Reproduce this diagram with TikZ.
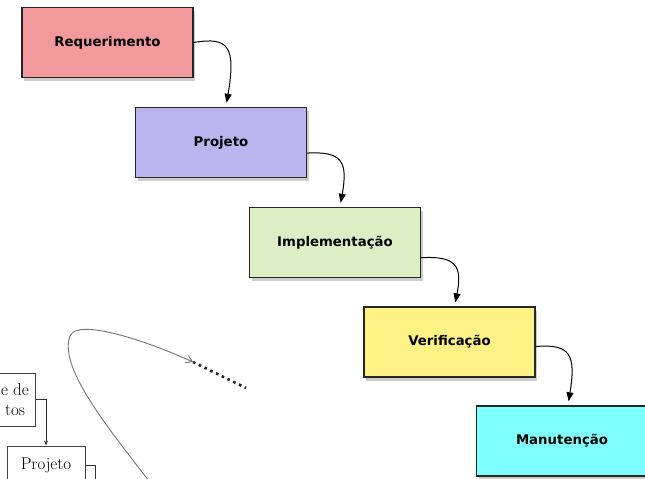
\documentclass[tikz,border=0pt]{standalone}
\usepackage{fontspec}
\newfontfamily\etapafont{DejaVu Sans}
\usetikzlibrary{shadows,arrows.meta}

\definecolor{reqcor}{HTML}{F2999B}
\definecolor{projcor}{HTML}{BCB4EE}
\definecolor{implcor}{HTML}{DCEFC4}
\definecolor{verifcor}{HTML}{FFF285}
\definecolor{manutcor}{HTML}{80FFFF}

\begin{document}
\begin{tikzpicture}
  [x=1pt, y=-1pt,
    etapa/.style={draw=black!85, line width=1.5pt, minimum width=171pt, minimum height=70pt,
      font=\etapafont\bfseries\fontsize{13.3}{15}\selectfont,
      drop shadow={opacity=0.4, shadow xshift=2pt, shadow yshift=-3.5pt}},
    seta/.style={-{Triangle[length=9pt,width=7pt]}, line width=1pt, shorten >=4pt},
    caixa/.style={draw=black!75, line width=1pt, inner sep=2pt,
      font=\fontsize{17}{20}\selectfont},
    fio/.style={line width=0.8pt, black!80},
  ]
  \useasboundingbox (0,0) rectangle (645,479);
  \clip (0,0) rectangle (645,479);

  % etapas do modelo cascata
  \node[etapa, fill=reqcor] (req) at (107.5,42.5) {Requerimento};
  \node[etapa, fill=projcor] (proj) at (221,142.5) {Projeto};
  \node[etapa, fill=implcor] (impl) at (335,242.5) {Implementação};
  \node[etapa, fill=verifcor] (verif) at (449.5,342) {Verificação};
  \node[etapa, fill=manutcor] (manut) at (562,441) {Manutenção};

  \draw[seta] (req.east) .. controls +(35,-6) and +(10,-60) .. ([xshift=5pt]proj.north);
  \draw[seta] (proj.-7) .. controls +(35,-2) and +(8,-45) .. ([xshift=5pt]impl.north);
  \draw[seta] (impl.-10) .. controls +(35,-2) and +(8,-40) .. ([xshift=5pt]verif.north);
  \draw[seta] (verif.-3) .. controls +(35,-3) and +(8,-50) .. ([xshift=6pt]manut.north);

  % recorte da outra figura
  \node[caixa, minimum width=40pt, minimum height=53pt, align=center] (analise) at (15,399.5) {e de\\tos};
  \node[caixa, minimum width=78pt, minimum height=38pt] (proj2) at (46,465) {Projeto};
  \coordinate (fora) at (95,490);
  \draw[fio, -{Stealth[length=5pt,width=4pt]}] (analise.east) -| (proj2.north);
  \draw[fio] (proj2.east) -| (fora);

  \coordinate (laco0) at (152,485);
  \coordinate (laco1) at (70,336);
  \coordinate (laco2) at (193,362);
  \coordinate (pontos) at (246,388);
  \draw[black!55, line width=0.9pt, -{Straight Barb[length=6pt,width=8pt]}]
    (laco0) .. controls (110,430) and (58,368) .. (laco1)
    .. controls (77,318) and (145,340) .. (laco2);
  \draw[black!85, line width=2.6pt, dash pattern=on 2.6pt off 3.8pt] (laco2) -- (pontos);
\end{tikzpicture}
\end{document}
